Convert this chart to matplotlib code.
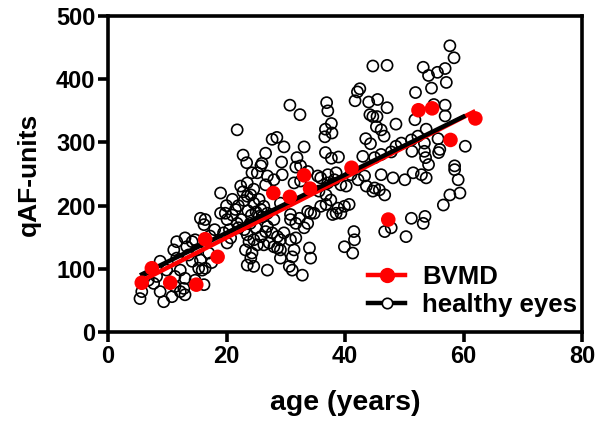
import matplotlib
matplotlib.use("Agg")
import matplotlib.pyplot as plt
from matplotlib.lines import Line2D
import numpy as np

plt.rcParams['font.family'] = ['Liberation Sans', 'DejaVu Sans']
plt.rcParams['font.weight'] = 'bold'

# BVMD patients (age, qAF)
bvmd_age = [5.7, 7.4, 10.5, 14.9, 16.4, 18.5, 27.9, 30.7, 33.1, 34.1, 41.1, 47.3, 52.4, 54.7, 57.8, 62.0]
bvmd_qaf = [78, 101, 78, 75, 147, 119, 220, 214, 248, 227, 260, 178, 351, 354, 304, 338]

# healthy eyes (age, qAF)
healthy_age = [
    5.4, 5.7, 6.8, 7.7, 8.2, 9.4, 8.8, 9.9, 10.8, 11.3, 11.3, 12.2, 12.2, 12.8, 13.0, 11.6, 11.1, 11.6,
    13.0, 13.3, 13.6, 14.2, 14.7, 15.0, 14.2, 15.6, 15.3, 15.9, 16.4, 14.7, 13.0, 16.2, 15.6, 16.4,
    16.2, 19.0, 19.0, 19.8, 20.1, 21.8, 21.5, 22.4, 23.5, 24.3, 25.2, 23.5, 24.1, 24.6, 25.8, 25.5,
    23.5, 23.8, 24.6, 25.2, 23.2, 24.3, 24.1, 23.5, 24.6, 25.8, 19.5, 20.1, 20.7, 8.8, 17.5, 17.0,
    17.2, 18.0, 21.0, 22.0, 22.5, 23.0, 23.6, 24.2, 24.6, 25.0, 25.5, 22.0, 23.0, 24.0, 21.0, 20.0,
    25.0, 26.0, 20.5, 22.8,
    26.3, 26.9, 28.0, 28.6, 29.1, 31.1, 31.7, 33.7, 34.8, 35.9, 36.8, 30.8, 35.9, 37.1, 38.2, 33.7,
    28.6, 27.7,
    26.9, 29.4, 26.6, 28.0, 29.1, 31.4, 32.5, 35.4, 37.1, 35.6, 36.8, 34.2, 33.7, 30.8, 32.3, 31.7,
    33.1, 30.8, 29.7, 29.1, 28.0, 29.1, 26.9, 30.6, 31.1, 32.8, 34.2, 34.0, 31.4, 26.9, 26.6, 26.3,
    27.2,
    38.5, 39.3, 40.2, 41.0, 42.2, 43.3, 43.6, 45.0, 44.7, 45.8, 46.7, 48.1, 50.1, 53.7, 58.5, 59.1,
    57.7, 59.4, 56.6, 51.2, 53.5, 53.2, 50.3, 46.7, 47.8, 41.5, 41.6, 39.9, 41.3, 37.6, 38.8, 39.9,
    40.7, 37.9, 38.5, 39.3,
    30.7, 32.4, 36.9, 37.1, 37.7, 36.7, 37.8, 36.6, 21.8, 27.7, 28.5, 29.7, 33.1, 36.7, 37.7, 22.8,
    26.6, 23.4, 25.8, 26.0, 29.3, 31.9, 31.7, 32.5, 38.9,
    57.7, 58.4, 44.7, 47.1, 53.2, 54.1, 55.6, 56.9, 57.1, 54.6, 51.9, 42.5, 42.1, 41.7, 44.0, 45.5,
    47.1, 44.2, 44.7, 45.4, 48.6, 45.3, 46.1, 46.6, 43.5, 44.3, 56.9, 56.9, 51.8, 55.7, 60.3, 55.8,
    56.0, 53.7, 52.3, 51.2, 49.5, 48.6, 47.8, 53.4, 53.4, 53.6, 54.1, 51.3, 43.0, 45.0, 46.1, 58.5,
    51.5, 52.9, 46.1, 55.0,
]
healthy_qaf = [
    53, 64, 82, 77, 88, 48, 64, 98, 56, 72, 88, 98, 64, 69, 59, 117, 130, 143,
    149, 135, 122, 143, 146, 130, 112, 114, 101, 98, 101, 82, 85, 75, 180, 178,
    170, 220, 188, 188, 178, 172, 194, 231, 236, 252, 252, 215, 217, 204, 194, 183,
    154, 143, 146, 138, 130, 125, 117, 106, 104, 151, 157, 141, 149, 112, 110, 125,
    152, 162, 185, 200, 178, 208, 192, 185, 226, 190, 210, 165, 162, 172, 210, 200,
    165, 182, 162, 222,
    199, 188, 178, 133, 130, 119, 149, 172, 188, 199, 217, 178, 244, 249, 241, 254,
    151, 157,
    247, 249, 233, 241, 204, 236, 239, 247, 236, 223, 202, 188, 191, 186, 180, 172,
    165, 146, 157, 146, 135, 117, 98, 104, 98, 90, 117, 133, 130, 167, 159, 138,
    141,
    252, 233, 231, 249, 241, 247, 231, 228, 223, 225, 217, 244, 241, 244, 257, 241,
    217, 220, 201, 180, 183, 172, 151, 159, 165, 159, 146, 135, 125, 209, 196, 199,
    202, 186, 188, 188,
    359, 344, 363, 350, 330, 321, 315, 309, 320, 305, 308, 293, 293, 284, 275, 280,
    283, 268, 263, 267, 269, 276, 261, 263, 277,
    453, 434, 421, 422, 419, 406, 411, 417, 395, 386, 379, 385, 380, 366, 364, 368,
    355, 344, 341, 341, 329, 325, 320, 310, 306, 298, 359, 342, 336, 306, 294, 284,
    289, 321, 310, 304, 299, 294, 285, 299, 286, 276, 265, 286, 278, 276, 281, 263,
    252, 249, 249, 360,
]

# linear regression lines (slope, intercept)
healthy_fit = (4.6, 65.0)
bvmd_fit = (4.77, 54.0)

x_ticks = [0, 20, 40, 60, 80]
y_ticks = [0, 100, 200, 300, 400, 500]

fig = plt.figure(figsize=(6.0, 4.23), dpi=100)
ax = fig.add_axes([0.18, 0.215, 0.79, 0.747])

ax.scatter(healthy_age, healthy_qaf, s=64, facecolors='none', edgecolors='black',
           linewidths=1.2, zorder=2)

ha = np.array(healthy_age)
hx = np.array([ha.min(), ha.max()])
ba = np.array(bvmd_age)
bx = np.array([ba.min(), ba.max()])
ax.plot(bx, bvmd_fit[0] * bx + bvmd_fit[1], color='#ff0000', lw=3.2, zorder=3,
        solid_capstyle='butt')
ax.plot(hx, healthy_fit[0] * hx + healthy_fit[1], color='black', lw=3.2, zorder=4,
        solid_capstyle='butt')
ax.scatter(bvmd_age, bvmd_qaf, s=110, color='#ff0000', edgecolors='none', zorder=5)

ax.set_xlim(0, 80)
ax.set_ylim(0, 500)
ax.set_xticks(x_ticks)
ax.set_yticks(y_ticks)
for s in ax.spines.values():
    s.set_linewidth(2.6)
ax.tick_params(axis='both', direction='out', length=7, width=2.6, labelsize=17, pad=2)
for lab in ax.get_xticklabels() + ax.get_yticklabels():
    lab.set_fontweight('bold')

ax.set_xlabel('age (years)', fontsize=20.5, fontweight='bold', labelpad=16)
ax.set_ylabel('qAF-units', fontsize=19, fontweight='bold', labelpad=11)

handles = [
    Line2D([0], [0], color='#ff0000', lw=3.2, marker='o', markersize=10,
           markerfacecolor='#ff0000', markeredgecolor='#ff0000'),
    Line2D([0], [0], color='black', lw=3.2, marker='o', markersize=7.5,
           markerfacecolor='white', markeredgecolor='black', markeredgewidth=1.2),
]
leg = ax.legend(handles, ['BVMD', 'healthy eyes'], loc='center left',
                bbox_to_anchor=(0.549, 0.13), frameon=False,
                handlelength=1.45, handletextpad=0.65, labelspacing=0.15,
                borderpad=0, borderaxespad=0, prop={'weight': 'bold', 'size': 18.5})

fig.savefig('out.png', dpi=100)
